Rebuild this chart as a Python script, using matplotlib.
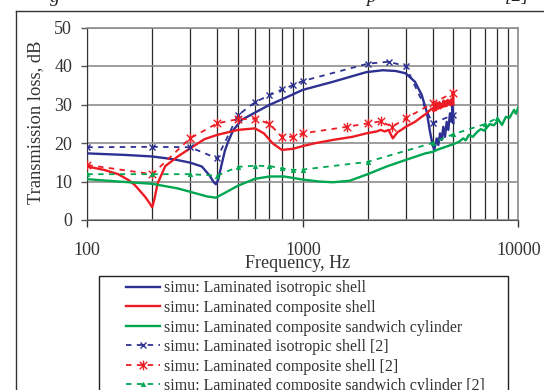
import matplotlib
matplotlib.use("Agg")
import matplotlib.pyplot as plt
from matplotlib.lines import Line2D
from matplotlib.patches import Rectangle
from matplotlib.path import Path
from matplotlib.ticker import FixedLocator, NullFormatter, FuncFormatter

plt.rcParams['font.family'] = ['Liberation Serif', 'DejaVu Serif']

# simu: laminated isotropic shell
iso_f = [100, 150, 200, 250, 300, 340, 370, 385, 395, 405, 418, 435, 450, 475, 520,
         600, 700, 820, 1000, 1380, 1970, 2350, 2700, 3000, 3316, 3562, 3758, 3893,
         3990, 4075, 4181, 4255, 4332, 4411, 4487, 4568, 4652, 4733, 4819, 4907,
         4961, 5000]
iso_tl = [17.3, 16.9, 16.5, 15.8, 14.9, 13.9, 11.5, 9.9, 9.3, 10.5, 13.9, 18.0, 20.3,
          23.3, 26.0, 27.9, 29.9, 31.6, 33.8, 35.9, 38.4, 38.9, 38.7, 38.1, 35.9, 32.5,
          28.1, 22.9, 19.9, 18.2, 21.2, 19.5, 22.5, 20.8, 24.2, 21.6, 25.5, 23.4, 27.7,
          25.5, 29.9, 25.2]

# simu: laminated composite shell
comp_f = [100, 120, 139, 155, 166, 185, 195, 200, 205, 212, 230, 263, 300, 350, 400,
          500, 600, 660, 725, 800, 900, 1000, 1130, 1380, 1700, 1970, 2200, 2300, 2400,
          2500, 2617, 2750, 2900, 3000, 3316, 3562, 3758, 3900, 4000, 4050, 4100, 4150,
          4200, 4250, 4300, 4350, 4400, 4450, 4500, 4550, 4600, 4650, 4700, 4750, 4800,
          4850, 4900, 4950, 4980, 5000]
comp_tl = [13.9, 13.0, 11.9, 10.4, 9.1, 6.1, 4.3, 3.3, 5.5, 9.5, 14.0, 16.5, 18.6, 21.0,
           22.1, 23.4, 23.8, 22.5, 19.9, 18.2, 18.5, 19.2, 19.9, 20.8, 21.6, 22.5, 23.0,
           23.4, 23.0, 23.4, 21.2, 22.8, 23.6, 24.2, 25.5, 26.8, 27.7, 28.6, 29.0, 28.2,
           30.1, 28.5, 30.4, 28.9, 30.6, 29.0, 30.2, 29.3, 31.0, 29.5, 30.8, 29.6, 31.2,
           30.0, 31.0, 29.8, 31.4, 30.2, 33.2, 30.0]

# simu: laminated composite sandwich cylinder
sand_f = [100, 139, 200, 263, 320, 360, 395, 430, 500, 600, 700, 820, 1000, 1190, 1380,
          1650, 2000, 2450, 3000, 3700, 4000, 4280, 5000, 5300, 5550, 5700, 5900, 6150,
          6450, 6700, 6950, 7370, 7700, 8100, 8400, 8760, 9100, 9550, 9750, 10000]
sand_tl = [10.6, 10.0, 9.4, 8.2, 6.9, 6.1, 5.8, 6.9, 8.9, 10.7, 11.3, 11.3, 10.5, 10.0,
           9.8, 10.2, 11.9, 13.9, 15.6, 17.3, 17.7, 18.4, 19.7, 20.3, 21.2, 20.7, 22.1,
           21.6, 22.9, 23.6, 23.2, 24.9, 24.6, 26.0, 24.7, 26.8, 26.5, 28.6, 27.6, 29.3]

# reference [2] values
iso_ref_f = [100, 200, 300, 400, 500, 600, 700, 800, 900, 1000, 2000, 2500, 3000, 4000, 5000]
iso_ref_tl = [18.9, 19.0, 18.9, 16.0, 27.2, 30.6, 32.4, 33.9, 35.0, 36.1, 40.6, 41.1, 40.0,
              25.1, 27.3]

comp_ref_f = [100, 200, 300, 400, 500, 600, 700, 800, 900, 1000, 1600, 2000, 2300, 2600,
              3000, 4000, 5000]
comp_ref_tl = [14.3, 11.9, 21.2, 25.1, 26.2, 26.3, 25.0, 21.6, 21.6, 22.5, 24.2, 25.1,
               25.6, 24.2, 26.4, 30.3, 33.1]

sand_ref_f = [100, 200, 300, 400, 500, 600, 700, 800, 900, 1000, 2000, 4000, 5000, 7000, 8000]
sand_ref_tl = [11.9, 11.9, 11.9, 11.5, 13.8, 14.1, 14.0, 13.4, 13.0, 13.1, 15.1, 20.0,
               22.3, 24.9, 26.5]

labels = [
    'simu: Laminated isotropic shell',
    'simu: Laminated composite shell',
    'simu: Laminated composite sandwich cylinder',
    'simu: Laminated isotropic shell [2]',
    'simu: Laminated composite shell [2]',
    'simu: Laminated composite sandwich cylinder [2]',
]

BLUE = '#2e3192'
RED = '#ed1c24'
GREEN = '#00a651'

# asterisk marker (x with a vertical bar)
asterisk = Path([(-1, -1), (1, 1), (-1, 1), (1, -1), (0, -1.3), (0, 1.3)],
                [Path.MOVETO, Path.LINETO, Path.MOVETO, Path.LINETO, Path.MOVETO, Path.LINETO])

W, H = 544, 390
fig = plt.figure(figsize=(W / 100, H / 100), dpi=100)
ax = fig.add_axes([87.3 / W, 1 - 220 / H, 431 / W, 192.5 / H])

ax.plot(iso_f, iso_tl, color=BLUE, lw=1.7, label=labels[0], zorder=4)
ax.plot(comp_f, comp_tl, color=RED, lw=1.7, label=labels[1], zorder=4)
ax.plot(sand_f, sand_tl, color=GREEN, lw=1.7, label=labels[2], zorder=4)
ax.plot(iso_ref_f, iso_ref_tl, color=BLUE, lw=1.3, dashes=(3, 3), marker='x',
        ms=4.5, mew=1.0, label=labels[3], zorder=5)
ax.plot(comp_ref_f, comp_ref_tl, color=RED, lw=1.3, dashes=(3, 3), marker=asterisk,
        ms=7, mew=1.0, mfc='none', label=labels[4], zorder=5)
ax.plot(sand_ref_f, sand_ref_tl, color=GREEN, lw=1.3, dashes=(3, 3), marker='^',
        ms=3.2, mew=0.5, label=labels[5], zorder=5)

ax.set_xscale('log')
ax.set_xlim(100, 10000)
ax.set_ylim(0, 50)
ax.set_yticks([0, 10, 20, 30, 40, 50])
ax.xaxis.set_major_locator(FixedLocator([100, 1000, 10000]))
ax.xaxis.set_major_formatter(FuncFormatter(lambda v, p: '%d' % round(v)))
ax.xaxis.set_minor_locator(FixedLocator([m * d for d in (100, 1000) for m in range(2, 10)]))
ax.xaxis.set_minor_formatter(NullFormatter())

ax.tick_params(axis='y', which='major', length=4, width=1, color='#555', pad=7,
               labelsize=13, labelcolor='#333')
ax.tick_params(axis='x', which='major', length=5, width=1, color='#333', pad=11,
               labelsize=13, labelcolor='#333')
ax.tick_params(axis='x', which='minor', length=0)

ax.grid(True, axis='x', which='both', color='#2a2a2a', lw=0.9)
ax.grid(True, axis='y', which='major', color='#8c8c8c', lw=1.2)
ax.set_axisbelow(True)
for side in ('top', 'right'):
    ax.spines[side].set_color('#8c8c8c')
    ax.spines[side].set_linewidth(1.2)
ax.spines['left'].set_color('#333')
ax.spines['bottom'].set_color('#555')

ax.set_xlabel('Frequency, Hz', fontsize=13, color='#333')
ax.xaxis.set_label_coords(0.487, -0.183)
ax.set_ylabel('Transmission loss, dB', fontsize=13.3, color='#333')
ax.yaxis.set_label_coords(-0.10, 0.51)

# legend without its own frame, box drawn separately (it runs off the bottom)
leg = fig.legend(loc='upper left', bbox_to_anchor=(126 / W, 1 - 280.5 / H),
                 fontsize=11.5, frameon=False, borderpad=0, handlelength=2.15,
                 handletextpad=0.2, labelspacing=0.22, borderaxespad=0)
for t in leg.get_texts():
    t.set_color('#333')
fig.add_artist(Rectangle((99 / W, -0.05), (508 - 99) / W, 0.05 + 1 - 276 / H,
                         transform=fig.transFigure, fill=False, ec='#222', lw=1.0))

# outer figure frame of the page and cut-off caption above it
fig.add_artist(Line2D([15.7 / W, 15.7 / W], [0, 1 - 11 / H], color='#333', lw=1.0))
fig.add_artist(Line2D([15.7 / W, 1], [1 - 11 / H, 1 - 11 / H], color='#333', lw=1.0))
for x, s in ((50, 'g'), (366, 'p'), (505, '[2]')):
    fig.text(x / W, 1 - 1.5 / H, s, fontsize=14, style='italic', color='#222',
             va='baseline', ha='left')

fig.savefig('out.png', dpi=100)
